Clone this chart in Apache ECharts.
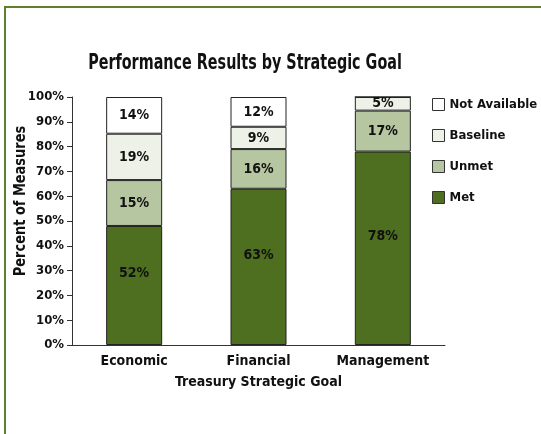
<!DOCTYPE html>
<html>
<head>
<meta charset="utf-8">
<script src="https://cdn.jsdelivr.net/npm/echarts@6/dist/echarts.min.js"></script>
<style>
  html, body { margin: 0; padding: 0; background: #fff; }
  #chart { width: 541px; height: 434px; }
</style>
</head>
<body>
<div id="chart"></div>
<script>
// 数据
var goals = ['Economic', 'Financial', 'Management'];
var yTicks = ['0%', '10%', '20%', '30%', '40%', '50%', '60%', '70%', '80%', '90%', '100%'];
// segment heights as drawn
var met = [48, 63, 78];
var unmet = [18.5, 16, 16.5];
var baseline = [18.7, 9, 5.5];
var notAvailable = [14.8, 12, 0];
// labels as printed on the bars
var metText = ['52%', '63%', '78%'];
var unmetText = ['15%', '16%', '17%'];
var baselineText = ['19%', '9%', '5%'];
var notAvailableText = ['14%', '12%', ''];

var font = "'Liberation Sans Narrow', 'DejaVu Sans Condensed', sans-serif";
var dom = document.getElementById('chart');
var myChart = echarts.init(dom);

function seg(name, values, texts, color, dy) {
    return {
        name: name,
        type: 'bar',
        stack: 'total',
        barWidth: 56,
        data: values,
        itemStyle: { color: color, borderColor: '#222', borderWidth: 1 },
        label: {
            show: true,
            position: 'inside',
            offset: [0, dy || 0],
            color: '#111',
            fontFamily: font,
            fontWeight: 'bold',
            fontSize: 14,
            formatter: function (p) { return texts[p.dataIndex]; }
        }
    };
}

var option = {
    animation: false,
    textStyle: { fontFamily: font },
    legend: {
        orient: 'vertical',
        left: 432,
        top: 98,
        padding: 0,
        itemWidth: 12,
        itemHeight: 12,
        itemGap: 18,
        icon: 'rect',
        data: ['Not Available', 'Baseline', 'Unmet', 'Met'],
        textStyle: { fontFamily: font, fontWeight: 'bold', fontSize: 13, color: '#111' },
        itemStyle: { borderColor: '#333', borderWidth: 1 }
    },
    grid: { left: 72, right: 96, top: 97, bottom: 89 },
    xAxis: {
        type: 'category',
        data: goals,
        name: 'Treasury Strategic Goal',
        nameLocation: 'middle',
        nameGap: 30,
        nameTextStyle: { fontFamily: font, fontWeight: 'bold', fontSize: 14, color: '#111' },
        axisLine: { lineStyle: { color: '#333', width: 1 } },
        axisTick: { inside: true, length: 5, lineStyle: { color: '#333' } },
        axisLabel: { interval: 0, fontFamily: font, fontWeight: 'bold', fontSize: 14, color: '#111', margin: 9 }
    },
    yAxis: {
        type: 'value',
        min: 0,
        max: 100,
        interval: 10,
        axisLine: { show: true, lineStyle: { color: '#333', width: 1 } },
        axisTick: { show: true, length: 5, lineStyle: { color: '#333' } },
        splitLine: { show: false },
        axisLabel: {
            fontFamily: font, fontWeight: 'bold', fontSize: 13, color: '#111', margin: 8,
            formatter: function (v) { return yTicks[Math.round(v / 10)]; }
        }
    },
    graphic: [
        { type: 'line', shape: { x1: 5, y1: 434, x2: 5, y2: 7 }, style: { stroke: '#5f7f2c', lineWidth: 2 } },
        { type: 'line', shape: { x1: 4, y1: 7, x2: 541, y2: 7 }, style: { stroke: '#5f7f2c', lineWidth: 2 } },
        {
            type: 'text', x: 245, y: 64, scaleX: 0.76,
            style: {
                text: 'Performance Results by Strategic Goal', fontFamily: font, fontWeight: 'bold', fontSize: 21,
                fill: '#111', align: 'center', verticalAlign: 'middle'
            }
        },
        {
            type: 'text', x: 21, y: 201, rotation: Math.PI / 2, scaleX: 0.9,
            style: {
                text: 'Percent of Measures', fontFamily: font, fontWeight: 'bold', fontSize: 16,
                fill: '#111', align: 'center', verticalAlign: 'middle'
            }
        }
    ],
    series: [
        seg('Met', met, metText, '#4d6f1f', -12),
        seg('Unmet', unmet, unmetText, '#b6c6a1'),
        seg('Baseline', baseline, baselineText, '#eef1e7'),
        seg('Not Available', notAvailable, notAvailableText, '#ffffff')
    ]
};

if (option && typeof option === 'object') {
    myChart.setOption(option, true);
}
</script>
</body>
</html>
